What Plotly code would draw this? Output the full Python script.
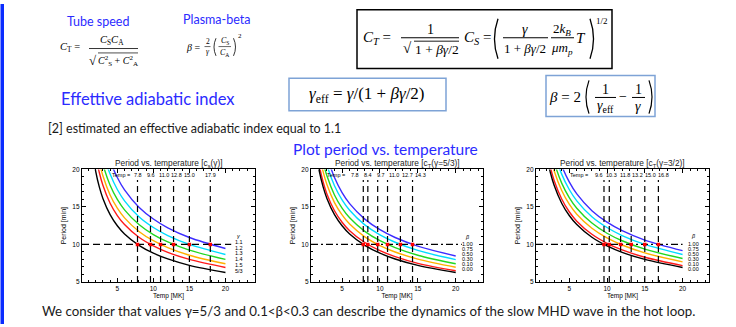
import plotly.graph_objects as go

W, H = 736, 327

# ---------------- data ----------------
TEMP_GRID = [1.5, 2, 2.5, 3, 4, 5, 6, 8, 10, 12, 15, 20]
PERIOD_LEVEL = 10
X_TICKS = [5, 10, 15, 20]
Y_TICKS = [5, 10, 15, 20]

P1_LABELS = ["1.1", "1.2", "1.3", "1.4", "1.5", "5/3"]
P1_TEMPS = [17.9, 15.0, 12.8, 11.0, 9.6, 7.8]
P1_PERIODS = [
    [34.55, 29.92, 26.76, 24.43, 21.16, 18.92, 17.27, 14.96, 13.38, 12.21, 10.92, 9.46],
    [31.62, 27.39, 24.50, 22.36, 19.37, 17.32, 15.81, 13.69, 12.25, 11.18, 10.00, 8.66],
    [29.21, 25.30, 22.63, 20.66, 17.89, 16.00, 14.61, 12.65, 11.31, 10.33, 9.24, 8.00],
    [27.08, 23.45, 20.98, 19.15, 16.59, 14.83, 13.54, 11.73, 10.49, 9.58, 8.56, 7.42],
    [25.30, 21.91, 19.59, 17.89, 15.49, 13.85, 12.65, 10.95, 9.80, 8.94, 8.00, 6.93],
    [22.80, 19.75, 17.67, 16.13, 13.97, 12.49, 11.40, 9.88, 8.83, 8.06, 7.21, 6.25],
]

P2_LABELS = ["1.00", "0.75", "0.50", "0.30", "0.10", "0.00"]
P2_TEMPS = [14.3, 12.7, 11.0, 9.7, 8.4, 7.8]
P2_PERIODS = [
    [30.88, 26.74, 23.92, 21.84, 18.91, 16.91, 15.44, 13.37, 11.96, 10.92, 9.77, 8.46],
    [29.10, 25.20, 22.54, 20.58, 17.82, 15.94, 14.55, 12.60, 11.27, 10.29, 9.20, 7.97],
    [27.08, 23.45, 20.98, 19.15, 16.59, 14.83, 13.54, 11.73, 10.49, 9.58, 8.56, 7.42],
    [25.43, 22.02, 19.70, 17.98, 15.57, 13.93, 12.71, 11.01, 9.85, 8.99, 8.04, 6.96],
    [23.66, 20.49, 18.33, 16.73, 14.49, 12.96, 11.83, 10.25, 9.16, 8.37, 7.48, 6.48],
    [22.80, 19.75, 17.67, 16.13, 13.97, 12.49, 11.40, 9.88, 8.83, 8.06, 7.21, 6.25],
]

P3_LABELS = ["1.00", "0.75", "0.50", "0.30", "0.10", "0.00"]
P3_TEMPS = [16.8, 15.0, 13.2, 11.8, 10.3, 9.6]
P3_PERIODS = [
    [33.47, 28.98, 25.93, 23.67, 20.50, 18.33, 16.73, 14.49, 12.96, 11.83, 10.58, 9.17],
    [31.62, 27.39, 24.50, 22.36, 19.37, 17.32, 15.81, 13.69, 12.25, 11.18, 10.00, 8.66],
    [29.66, 25.69, 22.98, 20.98, 18.17, 16.25, 14.83, 12.85, 11.49, 10.49, 9.38, 8.12],
    [28.05, 24.29, 21.73, 19.83, 17.18, 15.36, 14.02, 12.15, 10.86, 9.92, 8.87, 7.68],
    [26.20, 22.69, 20.30, 18.53, 16.05, 14.35, 13.10, 11.35, 10.15, 9.26, 8.29, 7.18],
    [25.30, 21.91, 19.59, 17.89, 15.49, 13.85, 12.65, 10.95, 9.80, 8.94, 8.00, 6.93],
]

# ---------------- styles ----------------
CURVE_COLORS = ["#3d2dff", "#00dcff", "#22d822", "#ffb000", "#ff1a1a", "#000000"]
SLIDE_BLUE = "#2b2bff"
BOX_BLUE = "#7ea3d6"
SANS = "Lato"
SERIF = "Liberation Serif"
PLOT_FONT = "Liberation Sans"

PANELS = [
    dict(title="Period vs. temperature [c<sub>s</sub>(γ)]", labels=P1_LABELS, temps=P1_TEMPS,
         periods=P1_PERIODS, sym="γ", dom=(82, 255), xr=(0.1, 24.1), hdash="7px,4px",
         hend=20.8, tempx=7.1, legx=21.9, legy=[11.1, 10.35, 9.55, 8.8, 8.05, 7.3, 6.5]),
    dict(title="Period vs. temperature [c<sub>T</sub>(γ=5/3)]", labels=P2_LABELS, temps=P2_TEMPS,
         periods=P2_PERIODS, sym="β", dom=(311, 483), xr=(0.9, 23.6), hdash="7px,3px,2px,3px",
         hend=20.8, tempx=5.7, legx=21.5, legy=[11.0, 10.1, 9.4, 8.75, 8.1, 7.4, 6.7]),
    dict(title="Period vs. temperature [c<sub>T</sub>(γ=3/2)]", labels=P3_LABELS, temps=P3_TEMPS,
         periods=P3_PERIODS, sym="β", dom=(536, 709), xr=(0.6, 23.5), hdash="7px,3px,2px,3px",
         hend=20.0, tempx=7.8, legx=21.4, legy=[11.1, 10.1, 9.4, 8.75, 8.1, 7.4, 6.75]),
]
PANEL_TOP, PANEL_BOTTOM = 169, 284

fig = go.Figure()
annotations = []
shapes = []


def px_x(x):
    return x / W


def px_y(y):
    return 1 - y / H


def A(x, y, text, size=10, color="black", family=SERIF, xanchor="center", yanchor="middle"):
    annotations.append(dict(x=px_x(x), y=px_y(y), xref="paper", yref="paper", text=text,
                            showarrow=False, xanchor=xanchor, yanchor=yanchor, borderpad=0,
                            font=dict(size=size, color=color, family=family)))


def LINE(x0, y0, x1, y1, color="black", width=1.0):
    shapes.append(dict(type="line", xref="paper", yref="paper", x0=px_x(x0), y0=px_y(y0),
                       x1=px_x(x1), y1=px_y(y1), line=dict(color=color, width=width)))


def RECT(x0, y0, x1, y1, color="black", width=1.5, fill=None):
    shapes.append(dict(type="rect", xref="paper", yref="paper", x0=px_x(x0), y0=px_y(y0),
                       x1=px_x(x1), y1=px_y(y1), line=dict(color=color, width=width),
                       fillcolor=fill if fill else "rgba(0,0,0,0)"))


def PAREN(x, y0, y1, bulge, width=1.1):
    """Curved bracket drawn as a quadratic path (bulge < 0 -> '(' , > 0 -> ')')."""
    xm = x + 2 * bulge
    ym = (y0 + y1) / 2
    path = (f"M {px_x(x):.5f},{px_y(y0):.5f} Q {px_x(xm):.5f},{px_y(ym):.5f} "
            f"{px_x(x):.5f},{px_y(y1):.5f}")
    shapes.append(dict(type="path", xref="paper", yref="paper", path=path,
                       line=dict(color="black", width=width)))


# ---------------- slide decoration ----------------
RECT(0.5, 0, 4, 327, color="#0a2cff", width=0, fill="#0a2cff")

# Tube speed / Plasma-beta
A(98, 18, "Tube speed", 12.5, SLIDE_BLUE, SANS)
A(216, 16, "Plasma-beta", 12.5, SLIDE_BLUE, SANS)

A(70, 44, "<i>C</i><sub>T</sub> =", 10.5)
A(112, 37, "<i>C</i><sub>S</sub><i>C</i><sub>A</sub>", 10.5)
LINE(89, 45.5, 138, 45.5, width=0.8)
A(93, 58, "√", 13)
LINE(98, 50, 138, 50, width=0.7)
A(118, 58, "<i>C</i><sup>2</sup><sub>S</sub> + <i>C</i><sup>2</sup><sub>A</sub>", 10)

A(193, 44, "<i>β</i> =", 10)
A(207.5, 38, "2", 7.5)
LINE(204.5, 43.5, 210.5, 43.5, width=0.6)
A(207.5, 49, "<i>γ</i>", 7.5)
PAREN(216, 35, 53, -2, width=0.8)
A(224.5, 38, "<i>C</i><sub>S</sub>", 8)
LINE(218.5, 43.5, 231, 43.5, width=0.6)
A(224.5, 50, "<i>C</i><sub>A</sub>", 8)
PAREN(233.5, 35, 53, 2, width=0.8)
A(240, 33, "2", 7)

# Big boxed formula
RECT(357, 6, 612, 66, color="black", width=1.5)
A(377, 35, "<i>C</i><sub><i>T</i></sub> =", 15)
A(430, 26, "1", 14)
LINE(401, 34.5, 459, 34.5, width=1)
A(407, 45, "√", 15)
LINE(414, 38, 459, 38, width=0.9)
A(437, 46, "1 + <i>βγ</i>/2", 13.5)
A(477, 35, "<i>C</i><sub><i>S</i></sub> =", 15)
PAREN(498, 15, 56, -3.5, width=1.3)
A(525, 26, "<i>γ</i>", 14)
LINE(503, 34.5, 548, 34.5, width=1)
A(525, 45, "1 + <i>βγ</i>/2", 13)
A(562, 26, "2<i>k</i><sub><i>B</i></sub>", 13)
LINE(551, 34.5, 574, 34.5, width=1)
A(562, 45, "<i>μm</i><sub><i>p</i></sub>", 13)
A(581, 35, "<i>T</i>", 15)
PAREN(590, 15, 56, 3.5, width=1.3)
A(602, 17, "1/2", 9)

# Effective adiabatic index row
A(60, 97, "Effettive adiabatic index", 16.5, SLIDE_BLUE, SANS, xanchor="left")
RECT(289, 76, 446, 109, color=BOX_BLUE, width=1.5)
A(367, 93, "<i>γ</i><sub>eff</sub> = <i>γ</i>/(1 + <i>βγ</i>/2)", 17)

RECT(546, 73, 655, 115, color=BOX_BLUE, width=1.5)
A(565, 95, "<i>β</i> = 2", 15)
PAREN(589, 78, 112, -3, width=1.2)
A(605, 87, "1", 14)
LINE(595, 95.5, 616, 95.5, width=1)
A(605, 105, "<i>γ</i><sub>eff</sub>", 14)
A(623, 95, "−", 14)
A(638, 87, "1", 14)
LINE(632, 95.5, 645, 95.5, width=1)
A(638, 105, "<i>γ</i>", 14)
PAREN(649, 78, 112, 3, width=1.2)

A(47, 127, "[2] estimated an effective adiabatic index equal to 1.1", 12.5, "#1a1a1a", SANS,
  xanchor="left")
A(385, 148, "Plot period vs. temperature", 15.5, SLIDE_BLUE, SANS)
A(368, 314, "We consider that values γ=5/3 and 0.1&lt;β&lt;0.3 can describe the dynamics of the "
  "slow MHD wave in the hot loop.", 13.3, "#1a1a1a", SANS)

# ---------------- panels ----------------
layout_axes = {}
for i, pn in enumerate(PANELS):
    n = "" if i == 0 else str(i + 1)
    xa, ya = "x" + n, "y" + n
    xmin, xmax = pn["xr"]
    px_per_unit = (pn["dom"][1] - pn["dom"][0]) / (xmax - xmin)

    for curve, color in zip(pn["periods"], CURVE_COLORS):
        fig.add_trace(go.Scatter(x=TEMP_GRID, y=curve, mode="lines", xaxis=xa, yaxis=ya,
                                 line=dict(color=color, width=1.4, shape="spline"),
                                 showlegend=False, hoverinfo="skip"))
    for t in pn["temps"]:
        fig.add_trace(go.Scatter(x=[t, t], y=[5, 18.6], mode="lines", xaxis=xa, yaxis=ya,
                                 line=dict(color="black", width=1.2, dash="6px,4px"),
                                 showlegend=False, hoverinfo="skip"))
    fig.add_trace(go.Scatter(x=[xmin, pn["hend"]], y=[PERIOD_LEVEL, PERIOD_LEVEL], mode="lines",
                             xaxis=xa, yaxis=ya,
                             line=dict(color="black", width=1.1, dash=pn["hdash"]),
                             showlegend=False, hoverinfo="skip"))
    fig.add_trace(go.Scatter(x=pn["temps"], y=[PERIOD_LEVEL] * len(pn["temps"]), mode="markers",
                             xaxis=xa, yaxis=ya,
                             marker=dict(color="#ff0000", size=3.5, symbol="square",
                                         line=dict(width=0)),
                             showlegend=False, hoverinfo="skip"))

    # temperature labels along the top (spread out so they do not collide)
    annotations.append(dict(x=pn["tempx"], y=19.3, xref=xa, yref=ya, text="Temp =",
                            showarrow=False, xanchor="right", yanchor="middle",
                            font=dict(size=5.5, family=PLOT_FONT, color="black")))
    pos = sorted(pn["temps"])
    gap = 13.0 / px_per_unit
    lab_x = [pos[0]]
    for t in pos[1:]:
        lab_x.append(max(t, lab_x[-1] + gap))
    shift = (lab_x[-1] - pos[-1]) / 2
    lab_x = [v - shift for v in lab_x]
    for t, lx in zip(pos, lab_x):
        annotations.append(dict(x=lx, y=19.3, xref=xa, yref=ya, text=f"{t:.1f}",
                                showarrow=False, xanchor="center", yanchor="middle",
                                font=dict(size=5.5, family=PLOT_FONT, color="black")))
    # legend column
    annotations.append(dict(x=pn["legx"], y=pn["legy"][0], xref=xa, yref=ya,
                            text=f"<i>{pn['sym']}</i>", showarrow=False,
                            font=dict(size=5.5, family=PLOT_FONT, color="black")))
    for lab, ly in zip(pn["labels"], pn["legy"][1:]):
        annotations.append(dict(x=pn["legx"], y=ly, xref=xa, yref=ya, text=lab,
                                showarrow=False,
                                font=dict(size=5.5, family=PLOT_FONT, color="black")))
    # panel title
    A((pn["dom"][0] + pn["dom"][1]) / 2, 163, pn["title"], 8.3, "#222222", PLOT_FONT)

    axis_common = dict(showline=True, linecolor="black", linewidth=1.2, mirror="ticks",
                       ticks="inside", ticklen=4, tickwidth=1, tickcolor="black",
                       showgrid=False, zeroline=False,
                       tickfont=dict(size=6.5, family=PLOT_FONT, color="black"))
    layout_axes["xaxis" + n] = dict(
        axis_common, domain=[px_x(pn["dom"][0]), px_x(pn["dom"][1])], range=[xmin, xmax],
        tickvals=X_TICKS, anchor=ya,
        minor=dict(ticks="inside", ticklen=2, dtick=1, tick0=0, tickcolor="black"),
        title=dict(text="Temp [MK]", standoff=0,
                   font=dict(size=6.5, family=PLOT_FONT, color="black")))
    layout_axes["yaxis" + n] = dict(
        axis_common, domain=[px_y(PANEL_BOTTOM), px_y(PANEL_TOP)], range=[5, 20],
        tickvals=Y_TICKS, anchor=xa,
        minor=dict(ticks="inside", ticklen=2, dtick=1, tick0=0, tickcolor="black"),
        title=dict(text="Period [min]", standoff=4,
                   font=dict(size=7, family=PLOT_FONT, color="black")))

fig.update_layout(
    width=W, height=H, autosize=False,
    margin=dict(l=0, r=0, t=0, b=0),
    paper_bgcolor="white", plot_bgcolor="white",
    showlegend=False,
    annotations=annotations, shapes=shapes,
    **layout_axes,
)

fig.write_html("out.html", config={"displayModeBar": False},
               post_script="document.body.style.margin='0';document.body.style.overflow='hidden';")
